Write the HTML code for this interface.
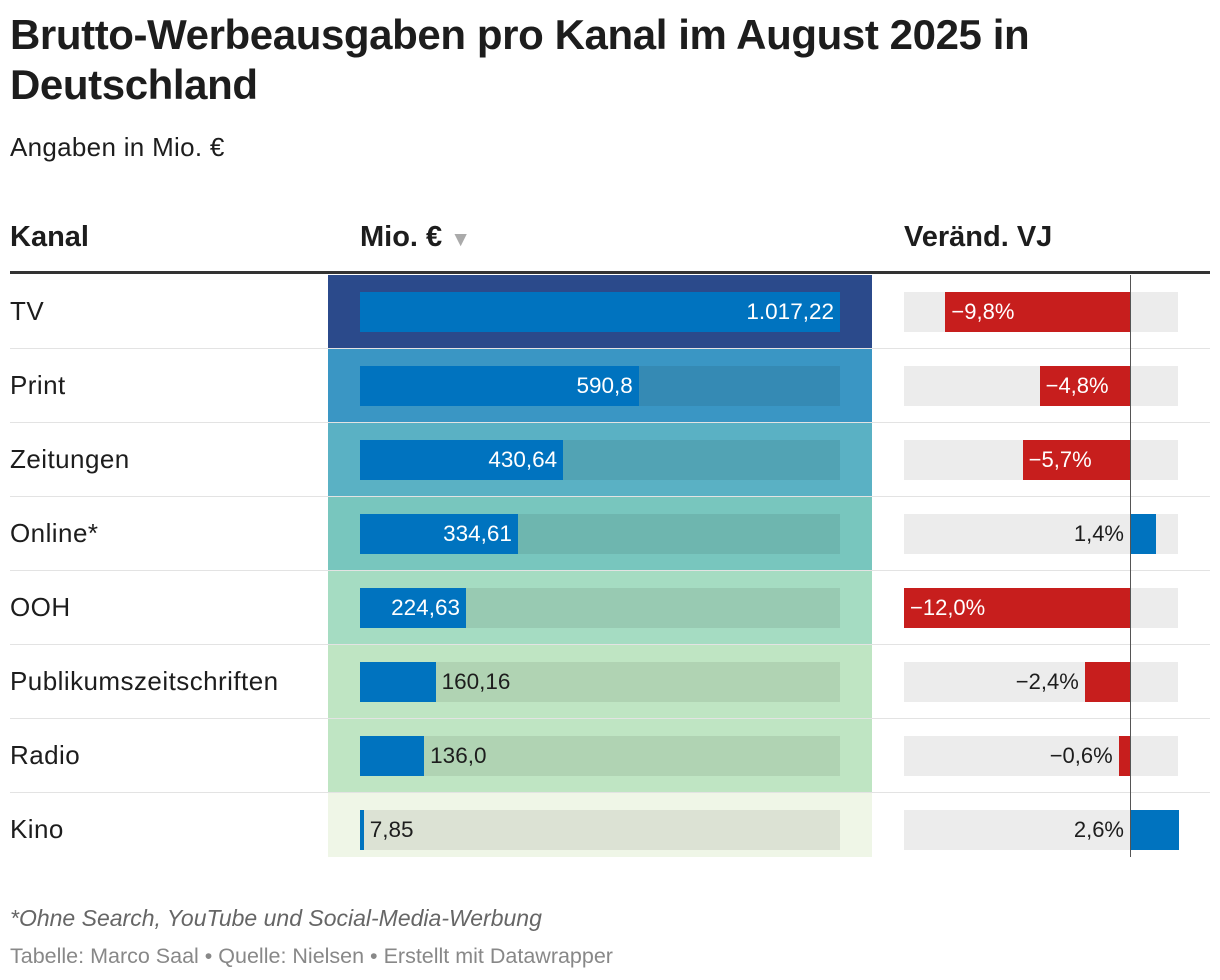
<!DOCTYPE html>
<html><head><meta charset="utf-8"><style>
body{margin:0;width:1220px;height:980px;background:#fff;font-family:"Liberation Sans",sans-serif;position:relative;overflow:hidden;color:#1d1d1d}
.abs{position:absolute;white-space:nowrap}
h1{position:absolute;left:10px;top:10px;margin:0;font-size:42px;line-height:50px;font-weight:bold;width:1200px;letter-spacing:-0.4px}
</style></head><body>
<h1>Brutto-Werbeausgaben pro Kanal im August 2025 in Deutschland</h1>
<div class="abs" style="left:10px;top:132px;font-size:26px;letter-spacing:0.3px">Angaben in Mio. €</div>
<div class="abs" style="left:10px;top:221px;font-size:29px;font-weight:bold">Kanal</div>
<div class="abs" style="left:360px;top:221px;font-size:29px;font-weight:bold">Mio. € <span style="color:#aaa;font-size:21px">▼</span></div>
<div class="abs" style="left:904px;top:221px;font-size:29px;font-weight:bold">Veränd. VJ</div>
<div class="abs" style="left:10px;top:271px;width:1200px;height:3px;background:#333"></div>
<div id="rows"></div>
<div class="abs" style="left:10px;top:905px;font-size:23px;font-style:italic;color:#666">*Ohne Search, YouTube und Social-Media-Werbung</div>
<div class="abs" style="left:10px;top:944px;font-size:21.5px;color:#888">Tabelle: Marco Saal • Quelle: Nielsen • Erstellt mit Datawrapper</div>
<script>
const channels=["TV","Print","Zeitungen","Online*","OOH","Publikumszeitschriften","Radio","Kino"];
const values=[1017.22,590.8,430.64,334.61,224.63,160.16,136.0,7.85];
const valueLabels=["1.017,22","590,8","430,64","334,61","224,63","160,16","136,0","7,85"];
const changes=[-9.8,-4.8,-5.7,1.4,-12.0,-2.4,-0.6,2.6];
const changeLabels=["−9,8%","−4,8%","−5,7%","1,4%","−12,0%","−2,4%","−0,6%","2,6%"];
const bgs=["#2b4a8b","#3a96c4","#5ab1c4","#78c6be","#a5dcc2","#bfe5c3","#bfe5c3","#eff6e7"];
const root=document.getElementById('rows');
const top0=275,rowH=74,barX=360,barW=480,maxV=1017.22;
const zeroX=1130,perPct=226/12,trackL=904,trackR=1178;
function mk(css,txt){const d=document.createElement('div');d.className='abs';d.style.cssText=css;if(txt!=null)d.textContent=txt;root.appendChild(d);return d;}
channels.forEach((c,i)=>{
  const y=top0+i*rowH;
  let e=mk(`left:10px;top:${y+21}px;font-size:26px;letter-spacing:0.45px`,c);
  
  if(i>0){e=mk(`left:10px;top:${y-1}px;width:1200px;height:1px;background:#e3e3e3`);
  }
  e=mk(`left:328px;top:${y}px;width:544px;height:${i==channels.length-1?rowH-10:rowH}px;background:${bgs[i]}`);
  
  e=mk(`left:${barX}px;top:${y+17}px;width:${barW}px;height:40px;background:rgba(0,0,0,0.08)`);
  
  const w=values[i]/maxV*barW;
  e=mk(`left:${barX}px;top:${y+17}px;width:${w}px;height:40px;background:#0073bf`);
  
  if(w>90){e=mk(`left:${barX}px;top:${y+24}px;width:${w-6}px;text-align:right;font-size:22.5px;color:#fff`,valueLabels[i]);}
  else{e=mk(`left:${barX+w+6}px;top:${y+24}px;font-size:22.5px;color:#1d1d1d`,valueLabels[i]);}
  
  e=mk(`left:${trackL}px;top:${y+17}px;width:${trackR-trackL}px;height:40px;background:#ececec`);
  
  const v=changes[i],cw=Math.abs(v)*perPct;
  const cx=v<0?zeroX-cw:zeroX;
  e=mk(`left:${cx}px;top:${y+17}px;width:${cw}px;height:40px;background:${v<0?'#c71e1d':'#0073bf'}`);
  
  if(v<0&&cw>80){e=mk(`left:${cx+6}px;top:${y+24}px;font-size:22px;color:#fff`,changeLabels[i]);}
  else{const rx=v<0?cx:zeroX;e=mk(`left:${rx-206}px;width:200px;text-align:right;top:${y+24}px;font-size:22px;color:#1d1d1d`,changeLabels[i]);}
  
});
const z=mk(`left:${zeroX}px;top:${top0}px;width:1px;height:${rowH*channels.length-10}px;background:#555`);


</script>
</body></html>
